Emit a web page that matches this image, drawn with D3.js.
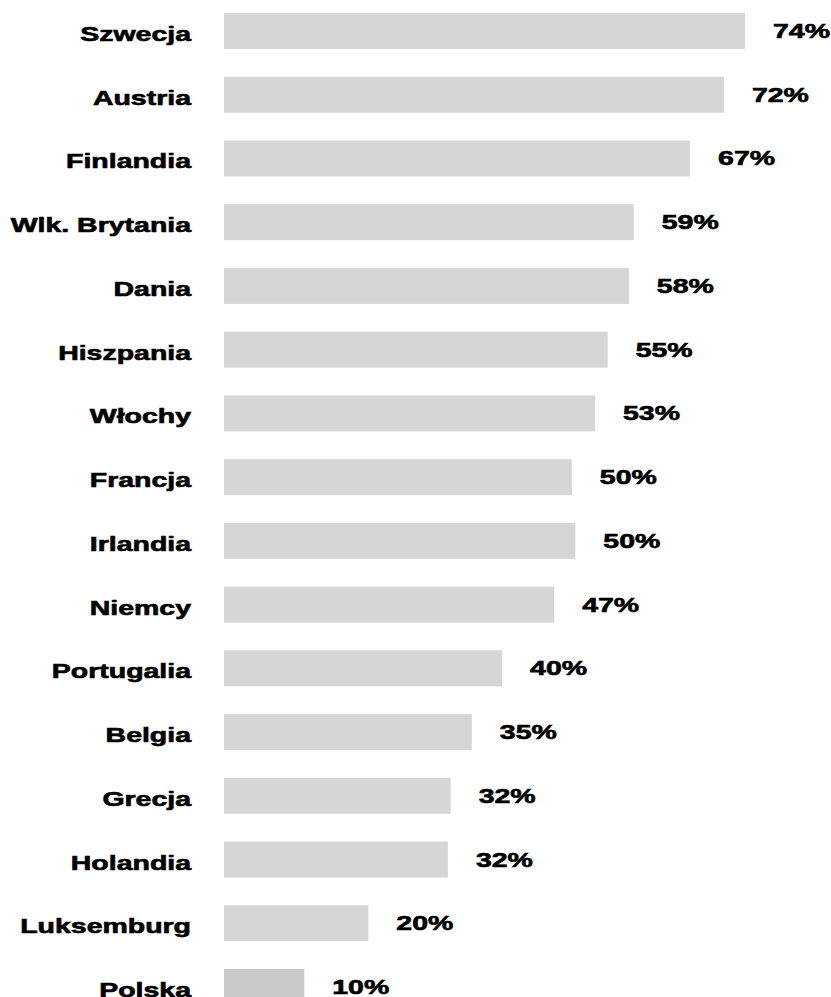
<!DOCTYPE html>
<html>
<head>
<meta charset="utf-8">
<script src="https://cdn.jsdelivr.net/npm/d3@7"></script>
<style>
  body { margin: 0; background: #fff; }
  svg { display: block; }
  text { font-family: "Liberation Sans", Arial, sans-serif; font-weight: bold; fill: #000; stroke: #000; stroke-width: 0.6px; }
</style>
</head>
<body>
<svg id="chart" width="831" height="997"></svg>
<script>
// countries, top to bottom
var countries = ["Szwecja", "Austria", "Finlandia", "Wlk. Brytania", "Dania", "Hiszpania",
  "Włochy", "Francja", "Irlandia", "Niemcy", "Portugalia", "Belgia", "Grecja",
  "Holandia", "Luksemburg", "Polska"];
// bar lengths (%)
var values = [74.0, 71.0, 66.2, 58.2, 57.5, 54.5, 52.7, 49.4, 49.9, 46.9, 39.5, 35.2, 32.2, 31.8, 20.5, 11.4];
// printed labels
var labels = [74, 72, 67, 59, 58, 55, 53, 50, 50, 47, 40, 35, 32, 32, 20, 10];

var svg = d3.select("#chart");
var fontSize = 19.5;
var stretch = 1.46; // the original lettering is wide

var x = d3.scaleLinear().domain([0, 74]).range([224, 745]);
var y = d3.scaleBand().domain(countries).range([13, 1005]).paddingInner(0.435).paddingOuter(0);

svg.append("g").selectAll("rect")
  .data(countries)
  .enter().append("rect")
    .attr("x", x(0))
    .attr("y", function(d) { return y(d); })
    .attr("width", function(d, i) { return x(values[i]) - x(0); })
    .attr("height", y.bandwidth())
    .attr("fill", function(d) { return d == "Polska" ? "#c9c9c9" : "#d6d6d6"; });

// country names
svg.append("g").selectAll("text")
  .data(countries)
  .enter().append("text")
    .attr("text-anchor", "end")
    .attr("font-size", fontSize)
    .attr("transform", function(d) {
      return "translate(191," + (y(d) + y.bandwidth() / 2 + 10) + ") scale(" + stretch + ",1)";
    })
    .text(function(d) { return d; });

// value labels
svg.append("g").selectAll("text")
  .data(countries)
  .enter().append("text")
    .attr("font-size", fontSize)
    .attr("transform", function(d, i) {
      return "translate(" + (x(values[i]) + 28) + "," + (y(d) + y.bandwidth() / 2 + 7) + ") scale(" + stretch + ",1)";
    })
    .text(function(d, i) { return labels[i] + "%"; });
</script>
</body>
</html>
